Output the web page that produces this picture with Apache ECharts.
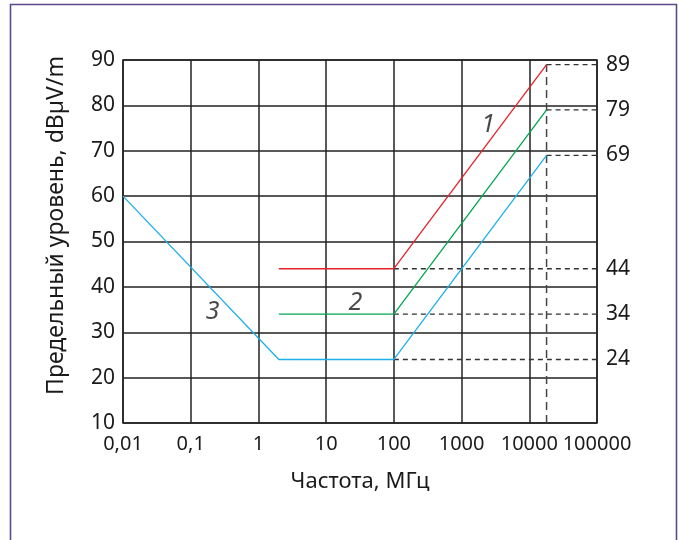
<!DOCTYPE html>
<html>
<head>
<meta charset="utf-8">
<script src="https://cdn.jsdelivr.net/npm/echarts@6/dist/echarts.min.js"></script>
<style>
html,body{margin:0;padding:0;background:#fff;}
#c{width:679px;height:540px;}
</style>
</head>
<body>
<div id="c"></div>
<script>
// ---- data ----
const xTickValues = [0.01, 0.1, 1, 10, 100, 1000, 10000, 100000];
const xTickLabels = ['0,01', '0,1', '1', '10', '100', '1000', '10000', '100000'];
const yMin = 10, yMax = 90, yStep = 10;
const rightTickLabels = [24, 34, 44, 69, 79, 89];
const curve1 = [[2, 44], [100, 44], [18000, 89]];
const curve2 = [[2, 34], [100, 34], [18000, 79]];
const curve3 = [[0.01, 60], [2, 24], [100, 24], [18000, 69]];
const breakFreq = 100;
const endFreq = 18000;
const xEnd = 100000;
const lowLevels = [44, 34, 24];
const highLevels = [89, 79, 69];
const curveLabels = [['1', 2460, 75.7], ['2', 27, 36.5], ['3', 0.21, 34.5]];
const xName = 'Частота, МГц';
const yName = 'Предельный уровень, dBµV/m';

const FONT = 'Noto Sans';
const TXT = '#1a1a1a';

const dashStyle = {color: '#333', width: 1.3, type: [5, 4]};
const series = [];
lowLevels.forEach(v => series.push({type: 'line', data: [[breakFreq, v], [xEnd, v]], symbol: 'none', lineStyle: dashStyle, silent: true, z: 1}));
highLevels.forEach(v => series.push({type: 'line', data: [[endFreq, v], [xEnd, v]], symbol: 'none', lineStyle: dashStyle, silent: true, z: 1}));
series.push({type: 'line', data: [[endFreq, yMin], [endFreq, highLevels[0]]], symbol: 'none', lineStyle: {color: '#444', width: 1.5, type: [8, 5]}, silent: true, z: 1});
[[curve1, '#e8202a'], [curve2, '#00a650'], [curve3, '#1cb0ea']].forEach(([d, c]) => series.push({
  type: 'line', data: d, symbol: 'none', lineStyle: {color: c, width: 1.3}, z: 3
}));
series.push({
  type: 'scatter', symbolSize: 0, silent: true,
  data: curveLabels.map(l => ({value: [l[1], l[2]], label: {formatter: l[0]}})),
  label: {show: true, position: 'inside', fontFamily: FONT, fontSize: 25, fontStyle: 'italic', color: TXT}
});

const chart = echarts.init(document.getElementById('c'));
chart.setOption({
  animation: false,
  grid: {left: 123, right: 82, top: 60, bottom: 117, show: true, borderColor: '#222', borderWidth: 1.5, backgroundColor: 'transparent'},
  graphic: [{type: 'rect', shape: {x: 10.5, y: 4.5, width: 666, height: 560}, style: {fill: 'none', stroke: '#5b4a8c', lineWidth: 1.6}, z: -1}],
  xAxis: {
    type: 'log', logBase: 10, min: xTickValues[0], max: xTickValues[xTickValues.length - 1], interval: 1,
    name: xName, nameLocation: 'middle', nameGap: 48,
    nameTextStyle: {fontFamily: FONT, fontSize: 22, color: TXT},
    axisLine: {show: false}, axisTick: {show: false},
    axisLabel: {fontFamily: FONT, fontSize: 20, color: TXT, margin: 11,
      formatter: v => { const i = xTickValues.findIndex(t => Math.abs(Math.log10(t) - Math.log10(v)) < 1e-6); return i >= 0 ? xTickLabels[i] : ''; }},
    splitLine: {show: true, lineStyle: {color: '#222', width: 1.5}},
    minorSplitLine: {show: false}
  },
  yAxis: [{
    type: 'value', min: yMin, max: yMax, interval: yStep,
    name: yName, nameLocation: 'middle', nameGap: 55,
    nameTextStyle: {fontFamily: FONT, fontSize: 23, color: TXT, padding: [0, 0, 0, 32]},
    axisLine: {show: false}, axisTick: {show: false},
    axisLabel: {fontFamily: FONT, fontSize: 21, color: TXT, margin: 8},
    splitLine: {show: true, lineStyle: {color: '#222', width: 1.5}}
  }, {
    type: 'value', min: yMin, max: yMax, interval: 1, position: 'right',
    axisLine: {show: false}, axisTick: {show: false}, splitLine: {show: false},
    axisLabel: {fontFamily: FONT, fontSize: 21, color: TXT, margin: 9,
      formatter: v => rightTickLabels.includes(Math.round(v)) ? String(Math.round(v)) : ''}
  }],
  series: series
});
</script>
</body>
</html>
